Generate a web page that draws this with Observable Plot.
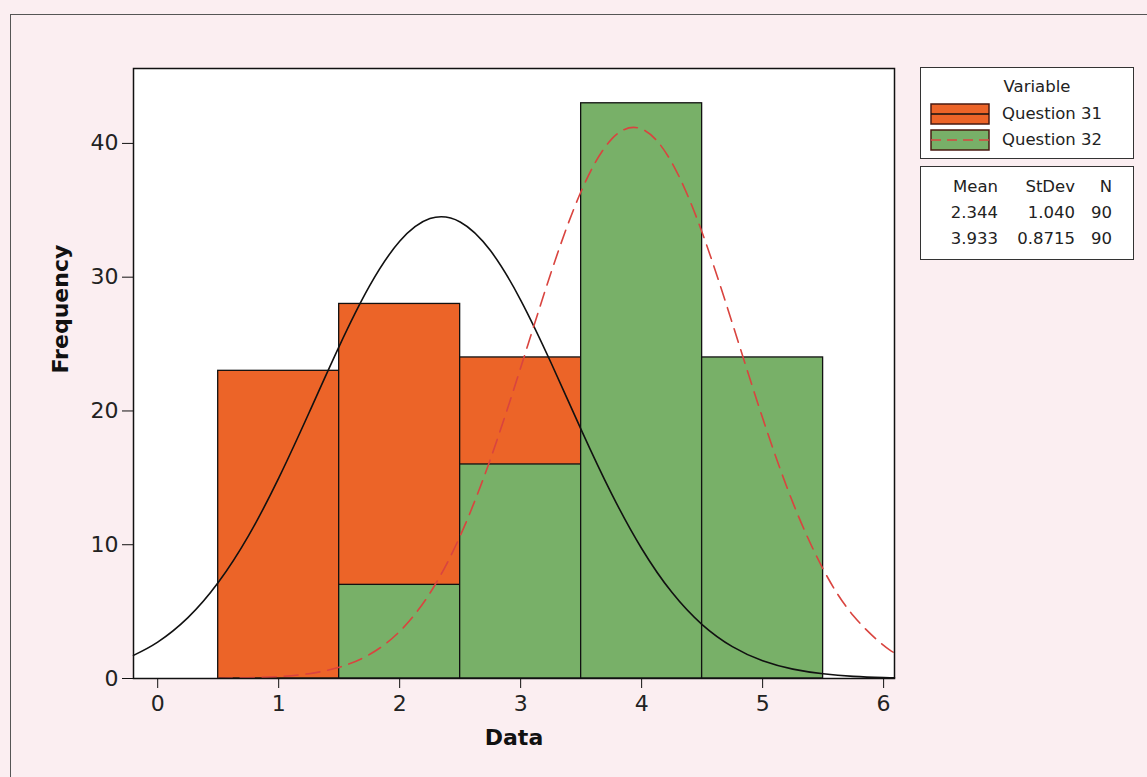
<!DOCTYPE html>
<html>
<head>
<meta charset="utf-8">
<script src="https://cdn.jsdelivr.net/npm/d3@7"></script>
<script src="https://cdn.jsdelivr.net/npm/@observablehq/plot@0.6"></script>
<style>
  html, body { margin: 0; padding: 0; background: #fbeef1; overflow: hidden; }
  #wrap { position: relative; width: 1147px; height: 777px; font-family: "DejaVu Sans", Verdana, sans-serif; }
  #outer { position: absolute; left: 10px; top: 14px; width: 2000px; height: 2000px; border-left: 1.5px solid #555; border-top: 1.5px solid #555; }
  #chart { position: absolute; left: 0; top: 0; }
  .box { position: absolute; left: 920px; width: 212px; border: 1.5px solid #333; background: #fff; font-size: 16.5px; color: #222; }
  .abs { position: absolute; white-space: nowrap; line-height: 1; }
</style>
</head>
<body>
<div id="wrap">
  <div id="outer"></div>
  <div id="chart"></div>
  <div class="box" id="legend" style="top:67px;height:90px;"></div>
  <div class="box" id="stats" style="top:166px;height:92px;"></div>
</div>
<script>
// ---- data ----
const binCenters = [1, 2, 3, 4, 5];
const q31Counts = [23, 28, 24, 15, 0];
const q32Counts = [0, 7, 16, 43, 24];

const curveX   = [-0.2, 0, 0.25, 0.5, 0.75, 1, 1.25, 1.5, 1.75, 2, 2.25, 2.5, 2.75, 3, 3.25, 3.5, 3.75, 4, 4.25, 4.5, 4.75, 5, 5.25, 5.5, 5.75, 6, 6.09];
const q31Curve = [1.73, 2.72, 4.55, 7.17, 10.66, 14.98, 19.85, 24.83, 29.33, 32.68, 34.38, 34.13, 31.99, 28.29, 23.62, 18.61, 13.84, 9.72, 6.44, 4.03, 2.38, 1.32, 0.70, 0.35, 0.16, 0.07, 0.05];
const q32Curve = [0, 0, 0.005, 0.018, 0.06, 0.143, 0.36, 0.84, 1.79, 3.52, 6.38, 10.66, 16.40, 23.23, 30.31, 36.42, 40.30, 41.08, 38.56, 33.34, 26.55, 19.47, 13.15, 8.18, 4.69, 2.47, 1.93];

const seriesNames = ["Question 31", "Question 32"];
const statMean = ["2.344", "3.933"];
const statStDev = ["1.040", "0.8715"];
const statN = ["90", "90"];
const xTicks = [0, 1, 2, 3, 4, 5, 6];
const yTicks = [0, 10, 20, 30, 40];

const orange = "#ec6428";
const green = "#78b068";
const red = "#d9443f";

const bars31 = binCenters.map((c, i) => ({x1: c - 0.5, x2: c + 0.5, y: q31Counts[i]})).filter(d => d.y > 0);
const bars32 = binCenters.map((c, i) => ({x1: c - 0.5, x2: c + 0.5, y: q32Counts[i]})).filter(d => d.y > 0);
const c31 = curveX.map((x, i) => ({x, y: q31Curve[i]}));
const c32 = curveX.map((x, i) => ({x, y: q32Curve[i]})).filter(d => d.x >= 0.5);

const chart = Plot.plot({
  width: 1147,
  height: 777,
  marginLeft: 133,
  marginRight: 253,
  marginTop: 68,
  marginBottom: 99,
  style: {background: "transparent", fontFamily: "'DejaVu Sans', Verdana, sans-serif", color: "#222"},
  x: {domain: [-0.2, 6.09]},
  y: {domain: [0, 45.6]},
  marks: [
    Plot.frame({fill: "white", stroke: "none"}),
    Plot.rectY(bars31, {x1: "x1", x2: "x2", y: "y", fill: orange, stroke: "#111", strokeWidth: 1.3}),
    Plot.rectY(bars32, {x1: "x1", x2: "x2", y: "y", fill: green, stroke: "#111", strokeWidth: 1.3}),
    Plot.line(c31, {x: "x", y: "y", stroke: "#111", strokeWidth: 1.6, curve: "natural"}),
    Plot.line(c32, {x: "x", y: "y", stroke: red, strokeWidth: 1.6, strokeDasharray: "14,8", curve: "natural"}),
    Plot.frame({stroke: "#111", strokeWidth: 1.5}),
    Plot.axisX({ticks: xTicks, tickFormat: d3.format("d"), tickSize: 10, tickPadding: 7, fontSize: 22, label: null, stroke: "#111"}),
    Plot.axisY({ticks: yTicks, tickFormat: d3.format("d"), tickSize: 11, tickPadding: 4, fontSize: 22, label: null, stroke: "#111"}),
    Plot.text(["Data"], {frameAnchor: "bottom", dy: 66, fontSize: 22, fontWeight: "bold", fill: "#111"}),
    Plot.text(["Frequency"], {frameAnchor: "left", dx: -73, rotate: -90, fontSize: 22, fontWeight: "bold", fill: "#111"})
  ]
});
document.getElementById("chart").appendChild(chart);

// ---- legend ----
const legend = document.getElementById("legend");
function addText(parent, txt, left, top, align) {
  const s = document.createElement("div");
  s.className = "abs";
  s.textContent = txt;
  s.style.top = top + "px";
  if (align === "right") { s.style.right = left + "px"; }
  else if (align === "center") { s.style.left = left + "px"; s.style.transform = "translateX(-50%)"; }
  else { s.style.left = left + "px"; }
  parent.appendChild(s);
  return s;
}
addText(legend, "Variable", 116, 11, "center");
const swFill = [orange, green];
const swLine = [{c: "#111", d: "none"}, {c: red, d: "10,6"}];
seriesNames.forEach((name, i) => {
  const top = 35 + i * 26;
  const ns = "http://www.w3.org/2000/svg";
  const svg = document.createElementNS(ns, "svg");
  svg.setAttribute("width", 60); svg.setAttribute("height", 22);
  svg.style.position = "absolute"; svg.style.left = "9px"; svg.style.top = top + "px";
  const r = document.createElementNS(ns, "rect");
  r.setAttribute("x", 1); r.setAttribute("y", 1); r.setAttribute("width", 58); r.setAttribute("height", 20);
  r.setAttribute("fill", swFill[i]); r.setAttribute("stroke", "#4a1a10"); r.setAttribute("stroke-width", 1.5);
  svg.appendChild(r);
  const l = document.createElementNS(ns, "line");
  l.setAttribute("x1", 1); l.setAttribute("x2", 59); l.setAttribute("y1", 11); l.setAttribute("y2", 11);
  l.setAttribute("stroke", swLine[i].c); l.setAttribute("stroke-width", 1.6);
  if (swLine[i].d !== "none") l.setAttribute("stroke-dasharray", swLine[i].d);
  svg.appendChild(l);
  legend.appendChild(svg);
  addText(legend, name, 81, top + 3, "left");
});

// ---- stats table ----
const stats = document.getElementById("stats");
const colRight = [135, 58, 21];
["Mean", "StDev", "N"].forEach((h, j) => addText(stats, h, colRight[j], 12, "right"));
for (let i = 0; i < 2; i++) {
  const top = 38 + i * 26;
  addText(stats, statMean[i], colRight[0], top, "right");
  addText(stats, statStDev[i], colRight[1], top, "right");
  addText(stats, statN[i], colRight[2], top, "right");
}
</script>
</body>
</html>
